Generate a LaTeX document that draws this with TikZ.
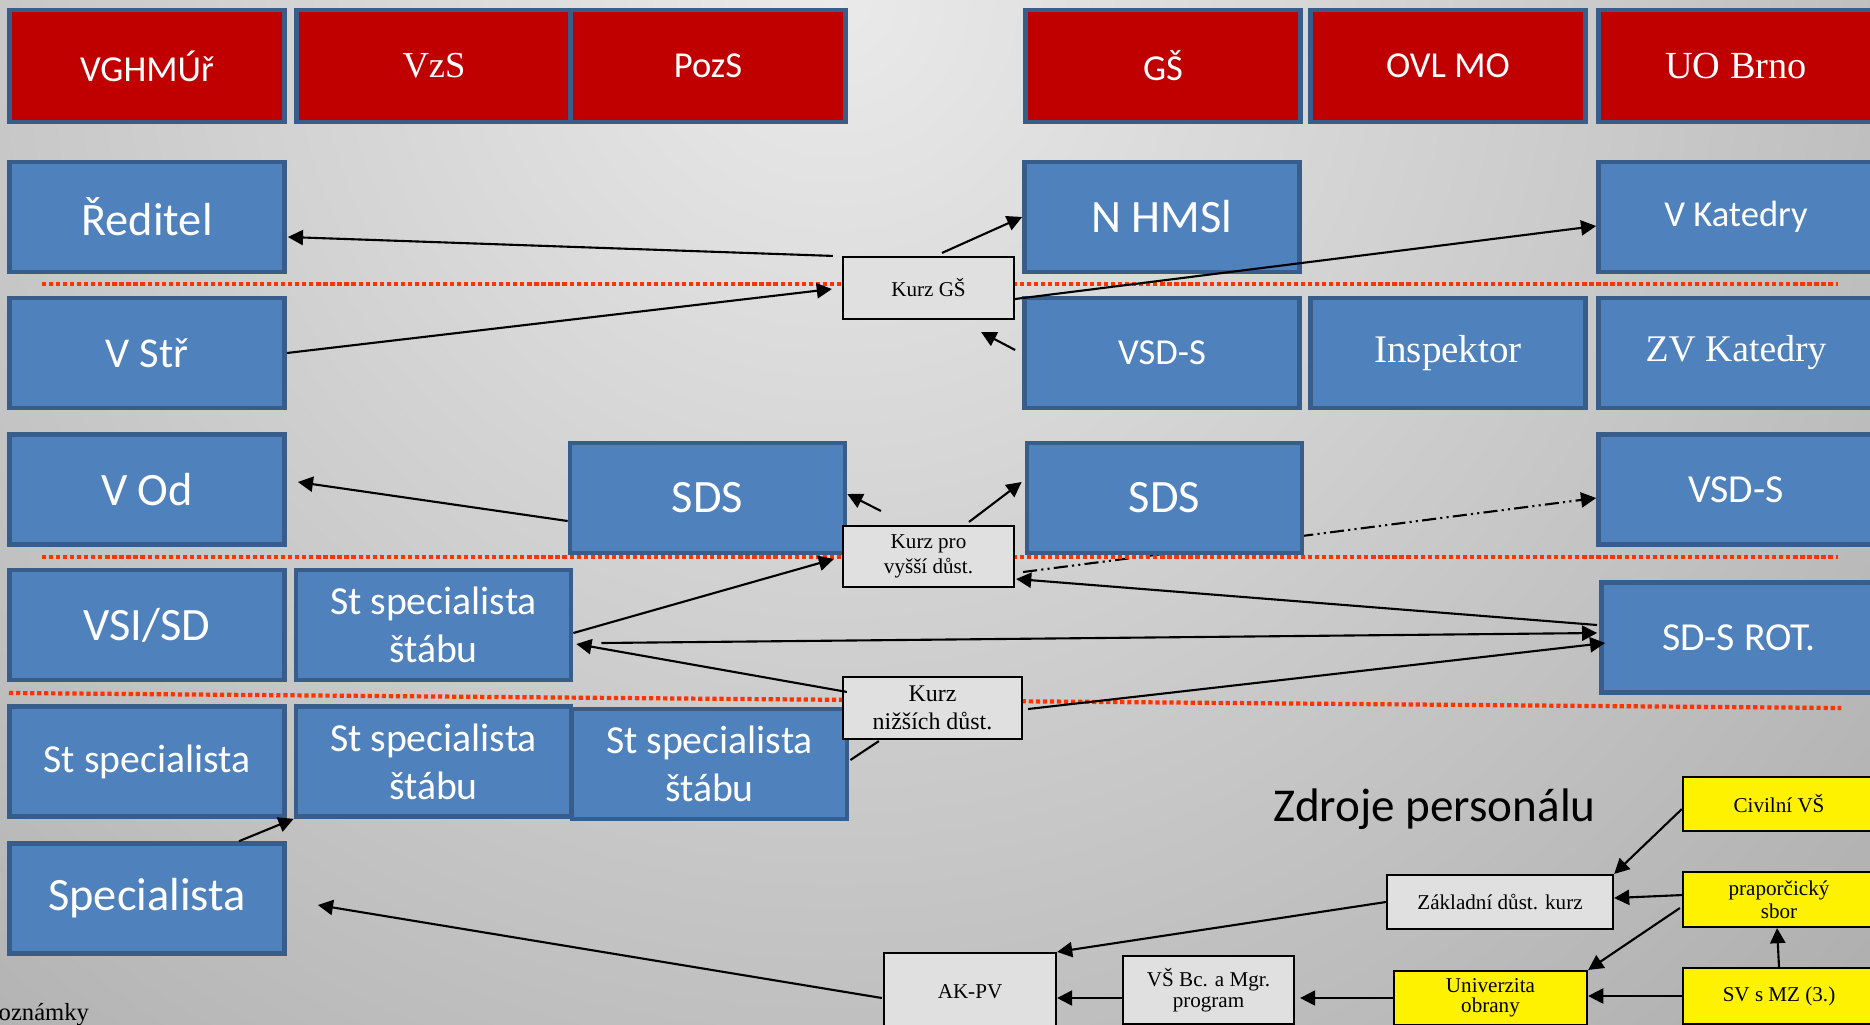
\documentclass[tikz,border=0pt]{standalone}
\usepackage{fontspec}
\setmainfont{Liberation Serif}
\newfontfamily\calibri{Carlito}
\usetikzlibrary{arrows.meta,calc}

\definecolor{boxblue}{RGB}{79,129,189}
\definecolor{boxline}{RGB}{56,93,138}
\definecolor{boxred}{RGB}{192,0,0}
\definecolor{kurzgray}{RGB}{224,224,224}
\definecolor{dotred}{RGB}{255,51,0}
\definecolor{bglight}{RGB}{234,234,234}
\definecolor{bgdark}{RGB}{135,135,135}

\pgfdeclarelayer{back}
\pgfdeclarelayer{under}
\pgfsetlayers{back,under,main}

\tikzset{
  bluebox/.style={draw=boxline, fill=boxblue, line width=1.3pt, text=white, inner sep=0pt,
    minimum width=2.75cm, minimum height=1.1cm, align=center,
    font=\calibri\fontsize{13.2}{15.8}\selectfont},
  redbox/.style={bluebox, fill=boxred, minimum height=1.12cm,
    font=\calibri\fontsize{10.4}{12.5}\selectfont},
  midtxt/.style={font=\calibri\fontsize{11.3}{13.7}\selectfont},
  smalltxt/.style={font=\calibri\fontsize{10.4}{12.5}\selectfont},
  serifbox/.style={font=\rmfamily\fontsize{10.9}{13}\selectfont},
  kurzbox/.style={draw=black, fill=kurzgray, line width=0.6pt, inner sep=0pt, align=center,
    font=\fontsize{6}{7.1}\selectfont},
  srcbox/.style={kurzbox, fill=yellow},
  arr/.style={-{Triangle[length=4.3pt,width=4.3pt]}, line width=0.6pt},
  sepline/.style={dotred, line width=1.2pt, dash pattern=on 1.2pt off 0.8pt},
}

\begin{document}
\begin{tikzpicture}[x=0.01cm, y=-0.01cm]
\useasboundingbox (0,0) rectangle (1870,1024);
\begin{pgfonlayer}{back}
  \begin{scope}
    \clip (0,0) rectangle (1870,1024);
    \shade[inner color=bglight, outer color=bgdark] (835,0) circle (24cm);
  \end{scope}
\end{pgfonlayer}

\draw[sepline] (42,284) -- (1838,284);
\draw[sepline] (42,557) -- (1838,557);
\draw[sepline] (9,693) -- (1841,708);

\node[redbox] (vgh) at (147,66) {VGHMÚř};
\node[redbox, serifbox, font=\rmfamily\fontsize{10.4}{12.5}\selectfont] (vzs) at (434,66) {VzS};
\node[redbox] (pozs) at (708,66) {PozS};
\node[redbox] (gs) at (1163,66) {GŠ};
\node[redbox] (ovl) at (1448,66) {OVL MO};
\node[redbox, serifbox] (uob) at (1736,66) {UO Brno};

\node[bluebox] (red) at (147,217) {Ředitel};
\node[bluebox] (nhms) at (1162,217) {N HMSl};
\node[bluebox, smalltxt] (vkat) at (1736,217) {V Katedry};

\node[bluebox, font=\calibri\fontsize{12.1}{14.5}\selectfont] (vstr) at (147,353) {V Stř};
\node[bluebox, smalltxt] (vsds) at (1162,353) {VSD-S};
\node[bluebox, serifbox, font=\rmfamily\fontsize{11.1}{13.3}\selectfont] (insp) at (1448,353) {Inspektor};
\node[bluebox, serifbox, font=\rmfamily\fontsize{10.7}{12.8}\selectfont] (zvkat) at (1736,353) {ZV Katedry};

\node[bluebox] (vod) at (147,489.5) {V Od};
\node[bluebox] (sds1) at (707.5,498) {SDS};
\node[bluebox] (sds2) at (1164.5,498) {SDS};
\node[bluebox, midtxt] (vsds2) at (1736,489.5) {VSD-S};

\node[bluebox] (vsi) at (147,625) {VSI/SD};
\node[bluebox, midtxt] (sspst1) at (433.5,625) {St specialista\\štábu};
\node[bluebox, midtxt] (sdrot) at (1739,637.5) {SD-S ROT.};

\node[bluebox, midtxt] (ssp) at (147,761.5) {St specialista};
\node[bluebox, midtxt] (sspst2) at (433.5,761.5) {St specialista\\štábu};
\node[bluebox, midtxt] (sspst3) at (709.5,764) {St specialista\\štábu};

\node[bluebox] (spec) at (147,898.5) {Specialista};

\node[kurzbox, minimum width=1.71cm, minimum height=0.62cm] (kgs) at (928.5,288) {Kurz GŠ};
\node[kurzbox, minimum width=1.71cm, minimum height=0.61cm] (kvd) at (928.5,556.5) {Kurz pro\\vyšší důst.};
\node[kurzbox, minimum width=1.79cm, minimum height=0.62cm, font=\fontsize{6.8}{7.8}\selectfont] (knd) at (932.5,708) {Kurz\\nižších důst.};

\node[anchor=base, inner sep=0pt, font=\calibri\fontsize{13.4}{16}\selectfont] (zdroje) at (1434.5,821) {Zdroje personálu};

\node[kurzbox, minimum width=2.26cm, minimum height=0.54cm] (zdk) at (1500,902) {Základní důst. kurz};
\node[srcbox, minimum width=1.92cm, minimum height=0.54cm] (civ) at (1779,804) {Civilní VŠ};
\node[srcbox, minimum width=1.92cm, minimum height=0.55cm, font=\fontsize{6}{5.2}\selectfont] (prap) at (1779,899.5) {praporčický\\sbor};
\node[srcbox, minimum width=1.92cm, minimum height=0.56cm] (svmz) at (1779,996) {SV s MZ (3.)};
\node[srcbox, minimum width=1.93cm, minimum height=0.54cm, font=\fontsize{6}{5.7}\selectfont] (uo) at (1490.5,998) {Univerzita\\obrany};
\node[kurzbox, minimum width=1.71cm, minimum height=0.68cm, font=\fontsize{6}{6}\selectfont] (vsbc) at (1208.5,990) {VŠ Bc. a Mgr.\\program};
\node[kurzbox, minimum width=1.72cm, minimum height=0.78cm] (akpv) at (970,992) {AK-PV};

\node[anchor=base west, inner sep=0pt, font=\fontsize{7}{8.4}\selectfont] (pozn) at (-2,1020) {oznámky};

\draw[arr] ($(kgs.north west)+(-9,0)$) -- ($(red.east)+(1,20)$);
\draw[arr] (vstr.east) -- ($(kgs.west)+(-10,1)$);
\draw[arr] ($(kgs.north)+(13.5,-3)$) -- (nhms.west);
\draw[arr] ($(kgs.east)+(0,11)$) -- ($(vkat.west)+(0,9)$);
\draw[arr] ($(vsds.west)+(-7,-3)$) -- ($(kgs.south east)+(-34,12)$);
\draw[arr] ($(sds1.west)+(0,23)$) -- ($(vod.east)+(11,-7.5)$);
\draw[arr] ($(kvd.north west)+(39,-14)$) -- ($(sds1.east)+(0,-4)$);
\draw[arr] ($(kvd.north)+(40.5,-3)$) -- ($(sds2.west)+(-3,-16)$);
\draw[arr] ($(sspst1.east)+(0,8)$) -- ($(kvd.west)+(-8,2.5)$);
\draw[arr] ($(sdrot.west)+(-2,-12.5)$) -- ($(kvd.east)+(1,22.5)$);
\begin{pgfonlayer}{under}
\draw[arr, dash pattern=on 4pt off 1.2pt on 0.6pt off 1.2pt on 0.6pt off 1.2pt] ($(kvd.east)+(8,15.5)$) -- ($(vsds2.west)+(0,8.5)$);
\end{pgfonlayer}
\draw[arr] ($(sspst1.east)+(28,18)$) -- ($(sdrot.west)+(-2,-4.5)$);
\draw[arr] ($(knd.north west)+(5,16)$) -- ($(sspst1.east)+(3,19)$);
\draw[arr] ($(knd.east)+(5,1)$) -- ($(sdrot.west)+(6,5.5)$);
\draw[line width=0.6pt] ($(sspst3.east)+(1,-4)$) -- ($(knd.south west)+(37,1)$);
\draw[arr] ($(spec.north)+(92,0)$) -- (sspst2.south west);
\draw[arr] ($(akpv.west)+(-1,6)$) -- ($(spec.east)+(31,6.5)$);

\draw[arr] ($(civ.west)+(0,5)$) -- (zdk.north east);
\draw[arr] ($(prap.west)+(1,-4.5)$) -- ($(zdk.east)+(0,-4)$);
\draw[arr] ($(prap.west)+(-2,8.5)$) -- (uo.north east);
\draw[arr] (svmz.north) -- ($(prap.south)+(-2,0)$);
\draw[arr] (svmz.west) -- (svmz.west -| uo.east);
\draw[arr] (uo.west) -- ($(uo.west -| vsbc.east)+(5,0)$);
\draw[arr] (vsbc.west |- uo.west) -- (akpv.east |- uo.west);
\draw[arr] (zdk.west) -- (akpv.north east);
\end{tikzpicture}
\end{document}
